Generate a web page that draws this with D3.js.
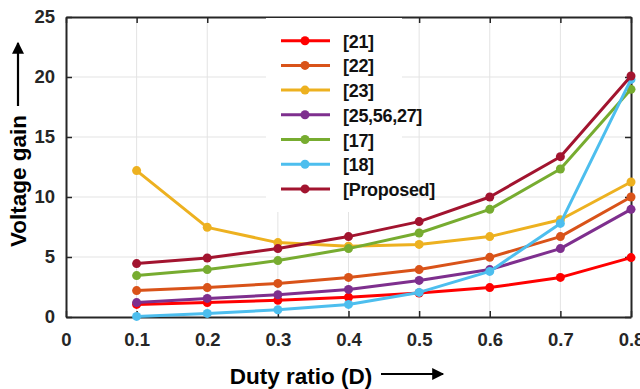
<!DOCTYPE html>
<html>
<head>
	<title>Voltage gain</title>
	<script src="https://d3js.org/d3.v7.min.js"></script>
	<style>
		body { margin: 0; background: #fff; }
		svg { display: block; font-family: "Liberation Sans", Arial, sans-serif; }
		.tick text { font-weight: bold; font-size: 18.5px; fill: #262626; }
	</style>
</head>
<body>
	<script>
		// DATA
		var duty = [0.1, 0.2, 0.3, 0.4, 0.5, 0.6, 0.7, 0.8];
		var names = ["[21]", "[22]", "[23]", "[25,56,27]", "[17]", "[18]", "[Proposed]"];
		var colors = ["#ff0000", "#d95319", "#edb120", "#7e2f8e", "#77ac30", "#4dbeee", "#a2142f"];
		var ref21 = [1.05, 1.2, 1.4, 1.65, 2.0, 2.45, 3.3, 4.95];
		var ref22 = [2.2, 2.45, 2.8, 3.3, 3.95, 4.97, 6.7, 10.0];
		var ref23 = [12.2, 7.47, 6.2, 5.9, 6.05, 6.7, 8.1, 11.25];
		var ref25 = [1.2, 1.55, 1.85, 2.3, 3.05, 3.95, 5.7, 8.97];
		var ref17 = [3.45, 3.95, 4.7, 5.7, 7.0, 8.97, 12.33, 18.97];
		var ref18 = [0.05, 0.3, 0.6, 1.05, 2.05, 3.8, 7.8, 19.8];
		var proposed = [4.45, 4.92, 5.7, 6.7, 7.95, 10.0, 13.36, 20.08];
		var allSeries = [ref21, ref22, ref23, ref25, ref17, ref18, proposed];
		var xTicks = [0, 0.1, 0.2, 0.3, 0.4, 0.5, 0.6, 0.7, 0.8];
		var yTicks = [0, 5, 10, 15, 20, 25];

		// SET UP SVG
		var width = 640, height = 389;
		var pLeft = 66, pRight = 631, pTop = 17, pBottom = 317;
		var svg = d3.select("body").append("svg")
			.attr("width", width)
			.attr("height", height);

		var x = d3.scaleLinear().domain([0, 0.8]).range([pLeft, pRight]);
		var y = d3.scaleLinear().domain([0, 25]).range([pBottom, pTop]);

		// grid
		var grid = svg.append("g").attr("stroke", "#e3e3e3").attr("stroke-width", 1);
		xTicks.slice(1, -1).forEach(function(t) {
			grid.append("line").attr("x1", x(t)).attr("x2", x(t)).attr("y1", pTop).attr("y2", pBottom);
		});
		yTicks.slice(1, -1).forEach(function(t) {
			grid.append("line").attr("x1", pLeft).attr("x2", pRight).attr("y1", y(t)).attr("y2", y(t));
		});

		// axes, ticks inward
		var fmtX = function(d) { return d === 0 ? "0" : d3.format(".1f")(d); };
		svg.append("g").attr("transform", "translate(0," + pBottom + ")")
			.call(d3.axisBottom(x).tickValues(xTicks).tickFormat(fmtX).tickSizeInner(-6).tickSizeOuter(0).tickPadding(16));
		svg.append("g").attr("transform", "translate(" + pLeft + ",0)")
			.call(d3.axisLeft(y).tickValues(yTicks).tickSizeInner(-6).tickSizeOuter(0).tickPadding(11));
		svg.append("g").attr("transform", "translate(0," + pTop + ")")
			.call(d3.axisTop(x).tickValues(xTicks).tickFormat("").tickSizeInner(-6).tickSizeOuter(0));
		svg.append("g").attr("transform", "translate(" + pRight + ",0)")
			.call(d3.axisRight(y).tickValues(yTicks).tickFormat("").tickSizeInner(-6).tickSizeOuter(0));
		svg.selectAll(".domain").attr("stroke", "#262626").attr("stroke-width", 2);
		svg.selectAll(".tick line").attr("stroke", "#262626").attr("stroke-width", 1.5);

		// legend background hides grid
		svg.append("rect").attr("x", 266).attr("y", pTop + 1).attr("width", 136).attr("height", 194).attr("fill", "#fff");

		// lines
		var line = d3.line().x(function(d, i) { return x(duty[i]); }).y(function(d) { return y(d); });
		allSeries.forEach(function(s, k) {
			var g = svg.append("g");
			g.append("path").datum(s).attr("d", line).attr("fill", "none")
				.attr("stroke", colors[k]).attr("stroke-width", 3).attr("stroke-linejoin", "round");
			g.selectAll("circle").data(s).enter().append("circle")
				.attr("cx", function(d, i) { return x(duty[i]); })
				.attr("cy", function(d) { return y(d); })
				.attr("r", 4.5).attr("fill", colors[k]);
		});

		// legend
		names.forEach(function(n, k) {
			var ly = 40.7 + k * 24.7;
			svg.append("line").attr("x1", 281).attr("x2", 330).attr("y1", ly).attr("y2", ly)
				.attr("stroke", colors[k]).attr("stroke-width", 3);
			svg.append("circle").attr("cx", 305).attr("cy", ly).attr("r", 4.5).attr("fill", colors[k]);
			svg.append("text").attr("x", 343).attr("y", ly + 7).text(n)
				.attr("font-size", 18).attr("font-weight", "bold").attr("fill", "#111")
				.attr("letter-spacing", -0.3);
		});

		// arrow marker
		svg.append("defs").append("marker").attr("id", "arr")
			.attr("viewBox", "0 0 10 10").attr("refX", 9).attr("refY", 5)
			.attr("markerWidth", 13).attr("markerHeight", 12).attr("markerUnits", "userSpaceOnUse")
			.attr("orient", "auto")
			.append("path").attr("d", "M0,0 L10,5 L0,10 Z").attr("fill", "#000");

		// axis titles
		svg.append("text").attr("transform", "translate(26,181) rotate(-90)")
			.attr("text-anchor", "middle").attr("font-size", 22.5).attr("font-weight", "bold")
			.text("Voltage gain");
		svg.append("line").attr("x1", 18).attr("x2", 18).attr("y1", 106).attr("y2", 43)
			.attr("stroke", "#000").attr("stroke-width", 2.2).attr("marker-end", "url(#arr)");

		svg.append("text").attr("x", 301).attr("y", 384)
			.attr("text-anchor", "middle").attr("font-size", 22.5).attr("font-weight", "bold")
			.text("Duty ratio (D)");
		svg.append("line").attr("x1", 381).attr("x2", 443).attr("y1", 374).attr("y2", 374)
			.attr("stroke", "#000").attr("stroke-width", 2.2).attr("marker-end", "url(#arr)");
	</script>
</body>
</html>
